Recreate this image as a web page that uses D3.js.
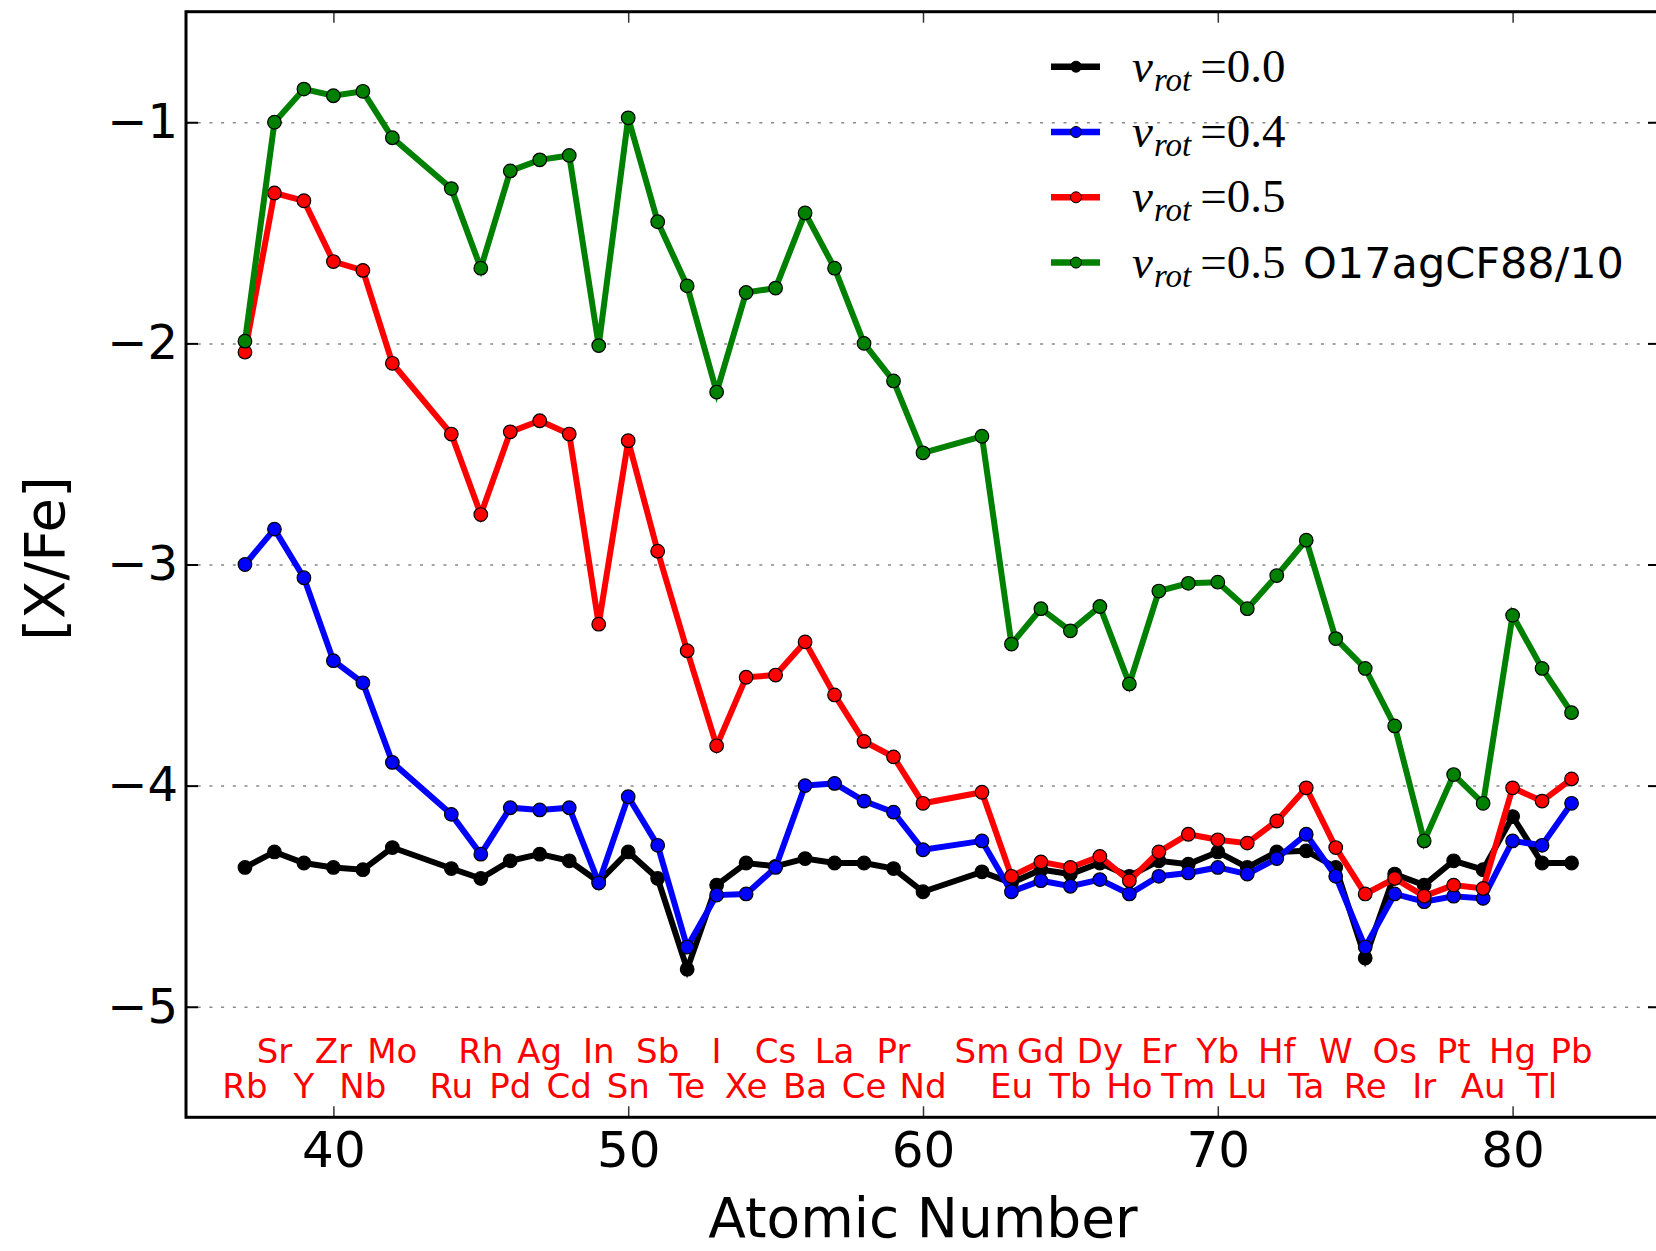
<!DOCTYPE html>
<html>
<head>
<meta charset="utf-8">
<script src="https://cdn.jsdelivr.net/npm/d3@7"></script>
<style>
body { margin: 0; background: #ffffff; }
</style>
</head>
<body>
<script>
// atomic numbers and element symbols along the x axis
var atomicNumbers = [37,38,39,40,41,42,44,45,46,47,48,49,50,51,52,53,54,55,56,57,58,59,60,62,63,64,65,66,67,68,69,70,71,72,73,74,75,76,77,78,79,80,81,82];
var symbols = ["Rb","Sr","Y","Zr","Nb","Mo","Ru","Rh","Pd","Ag","Cd","In","Sn","Sb","Te","I","Xe","Cs","Ba","La","Ce","Pr","Nd","Sm","Eu","Gd","Tb","Dy","Ho","Er","Tm","Yb","Lu","Hf","Ta","W","Re","Os","Ir","Pt","Au","Hg","Tl","Pb"];

// [X/Fe] for each model
var vrot00 = [-4.37,-4.30,-4.35,-4.37,-4.38,-4.28,-4.375,-4.42,-4.34,-4.31,-4.34,-4.435,-4.30,-4.42,-4.83,-4.45,-4.35,-4.365,-4.33,-4.35,-4.35,-4.375,-4.48,-4.39,-4.44,-4.38,-4.40,-4.35,-4.41,-4.34,-4.355,-4.30,-4.37,-4.30,-4.295,-4.37,-4.78,-4.40,-4.45,-4.34,-4.38,-4.14,-4.35,-4.35];
var vrot04 = [-3.00,-2.84,-3.06,-3.435,-3.535,-3.895,-4.13,-4.31,-4.10,-4.11,-4.10,-4.44,-4.05,-4.27,-4.73,-4.495,-4.49,-4.37,-4.00,-3.99,-4.07,-4.12,-4.29,-4.25,-4.48,-4.43,-4.455,-4.425,-4.49,-4.41,-4.395,-4.37,-4.40,-4.33,-4.22,-4.41,-4.73,-4.49,-4.525,-4.50,-4.51,-4.25,-4.27,-4.08];
var vrot05 = [-2.04,-1.32,-1.355,-1.63,-1.67,-2.09,-2.41,-2.774,-2.40,-2.35,-2.41,-3.27,-2.44,-2.94,-3.39,-3.82,-3.51,-3.50,-3.35,-3.59,-3.80,-3.87,-4.08,-4.03,-4.41,-4.345,-4.37,-4.32,-4.43,-4.30,-4.22,-4.245,-4.26,-4.16,-4.01,-4.28,-4.49,-4.42,-4.50,-4.45,-4.465,-4.01,-4.07,-3.97];
var vrot05agCF = [-1.99,-1.00,-0.85,-0.88,-0.86,-1.07,-1.30,-1.66,-1.22,-1.17,-1.15,-2.01,-0.98,-1.45,-1.74,-2.22,-1.77,-1.75,-1.41,-1.66,-2.00,-2.17,-2.495,-2.42,-3.36,-3.20,-3.30,-3.19,-3.54,-3.12,-3.085,-3.08,-3.20,-3.05,-2.89,-3.335,-3.47,-3.73,-4.25,-3.95,-4.08,-3.23,-3.47,-3.67];

var seriesValues = ["=0.0","=0.4","=0.5","=0.5"];
var seriesExtra = ["","","","O17agCF88/10"];
var seriesColours = ["#000000","#0000ff","#ff0000","#008000"];

var xTicks = [40,50,60,70,80];
var yTicks = [-1,-2,-3,-4,-5];

var plotLeft = 186, plotRight = 1660, plotTop = 11.7, plotBottom = 1117.3;

var holder = d3.select("body")
      .append("svg")
      .attr("width", 1656)
      .attr("height", 1251)
      .style("display", "block")
      .style("font-family", "'DejaVu Sans', sans-serif");

holder.append("rect")
    .attr("width", 1656)
    .attr("height", 1251)
    .style("fill", "#ffffff");

var x = d3.scaleLinear().domain([35, 85]).range([plotLeft, plotRight]);
var y = d3.scaleLinear().domain([-5.5, -0.5]).range([plotBottom, plotTop]);

// dotted grid lines
holder.append("g")
    .attr("transform", "translate(" + plotLeft + ",0)")
    .call(d3.axisRight(y).tickValues(yTicks).tickSize(plotRight - plotLeft).tickFormat(""))
    .call(function(g) {
        g.select(".domain").remove();
        g.selectAll("line").attr("stroke", "#888888").attr("stroke-width", 1.5).attr("stroke-dasharray", "3,8.7");
    });

// left axis with inward ticks
holder.append("g")
    .attr("transform", "translate(" + plotLeft + ",0)")
    .call(d3.axisLeft(y).tickValues(yTicks).tickSize(-12).tickPadding(8).tickFormat(d3.format("d")))
    .call(function(g) {
        g.select(".domain").remove();
        g.selectAll("line").attr("stroke", "#000").attr("stroke-width", 2);
        g.selectAll("text").style("font-size", "48px").attr("fill", "#000").attr("font-family", "'DejaVu Sans', sans-serif");
    });

// right axis ticks (spine is just off the picture)
holder.append("g")
    .attr("transform", "translate(" + plotRight + ",0)")
    .call(d3.axisRight(y).tickValues(yTicks).tickSize(-12).tickFormat(""))
    .call(function(g) {
        g.select(".domain").remove();
        g.selectAll("line").attr("stroke", "#000").attr("stroke-width", 2);
    });

// bottom axis
holder.append("g")
    .attr("transform", "translate(0," + plotBottom + ")")
    .call(d3.axisBottom(x).tickValues(xTicks).tickSize(-11).tickPadding(14).tickFormat(d3.format("d")))
    .call(function(g) {
        g.select(".domain").remove();
        g.selectAll("line").attr("stroke", "#333").attr("stroke-width", 1.5);
        g.selectAll("text").style("font-size", "50px").attr("fill", "#000").attr("font-family", "'DejaVu Sans', sans-serif");
    });

// top axis ticks
holder.append("g")
    .attr("transform", "translate(0," + plotTop + ")")
    .call(d3.axisTop(x).tickValues(xTicks).tickSize(-11).tickFormat(""))
    .call(function(g) {
        g.select(".domain").remove();
        g.selectAll("line").attr("stroke", "#333").attr("stroke-width", 1.5);
    });

// frame
holder.append("rect")
    .attr("x", plotLeft)
    .attr("y", plotTop)
    .attr("width", plotRight - plotLeft)
    .attr("height", plotBottom - plotTop)
    .style("fill", "none")
    .style("stroke", "#000")
    .style("stroke-width", 3);

// the four models, black drawn first, green last
var allSeries = [vrot00, vrot04, vrot05, vrot05agCF].map(function(vals, i) {
    return {
        colour: seriesColours[i],
        points: atomicNumbers.map(function(z, j) { return {z: z, v: vals[j]}; })
    };
});

var line = d3.line()
    .x(function(d) { return x(d.z); })
    .y(function(d) { return y(d.v); });

var groups = holder.selectAll(".series")
    .data(allSeries)
    .enter().append("g")
    .attr("class", "series");

groups.append("path")
    .attr("d", function(d) { return line(d.points); })
    .style("fill", "none")
    .style("stroke", function(d) { return d.colour; })
    .style("stroke-width", 6)
    .style("stroke-linejoin", "miter");

groups.selectAll("circle")
    .data(function(d) { return d.points.map(function(p) { return {z: p.z, v: p.v, colour: d.colour}; }); })
    .enter().append("circle")
    .attr("cx", function(d) { return x(d.z); })
    .attr("cy", function(d) { return y(d.v); })
    .attr("r", 6.8)
    .style("fill", function(d) { return d.colour; })
    .style("stroke", "#000")
    .style("stroke-width", 1.2);

// element symbols, alternating rows
holder.selectAll(".element")
    .data(atomicNumbers)
    .enter().append("text")
    .attr("class", "element")
    .attr("x", function(d) { return x(d); })
    .attr("y", function(d, i) { return i % 2 === 0 ? 1098 : 1063; })
    .attr("text-anchor", "middle")
    .style("font-size", "34px")
    .style("fill", "#ff0000")
    .text(function(d, i) { return symbols[i]; });

// axis titles
holder.append("text")
    .attr("x", (plotLeft + plotRight) / 2)
    .attr("y", 1237)
    .attr("text-anchor", "middle")
    .style("font-size", "55px")
    .text("Atomic Number");

holder.append("text")
    .attr("transform", "translate(64," + ((plotTop + plotBottom) / 2 - 6) + ") rotate(-90)")
    .attr("text-anchor", "middle")
    .style("font-size", "56px")
    .text("[X/Fe]");

// legend
var legend = holder.selectAll(".legend")
    .data(seriesColours)
    .enter().append("g")
    .attr("class", "legend")
    .attr("transform", function(d, i) { return "translate(1051," + (66.7 + i * 65.3) + ")"; });

legend.append("line")
    .attr("x1", 0).attr("x2", 49)
    .style("stroke", function(d) { return d; })
    .style("stroke-width", 6.5);

legend.append("circle")
    .attr("cx", 25)
    .attr("r", 5.5)
    .style("fill", function(d) { return d; })
    .style("stroke", "#000")
    .style("stroke-width", 1);

var label = legend.append("text")
    .attr("x", 81)
    .attr("y", 15)
    .style("font-family", "'Liberation Serif', serif")
    .style("font-size", "47px");

label.append("tspan").style("font-style", "italic").text("v");
label.append("tspan").style("font-style", "italic").style("font-size", "33px").attr("dy", 9).attr("dx", 1).text("rot");
label.append("tspan").attr("dy", -9).attr("dx", 9).text(function(d, i) { return seriesValues[i]; });

legend.append("text")
    .attr("x", 252)
    .attr("y", 15)
    .style("font-size", "43px")
    .text(function(d, i) { return seriesExtra[i]; });
</script>
</body>
</html>
